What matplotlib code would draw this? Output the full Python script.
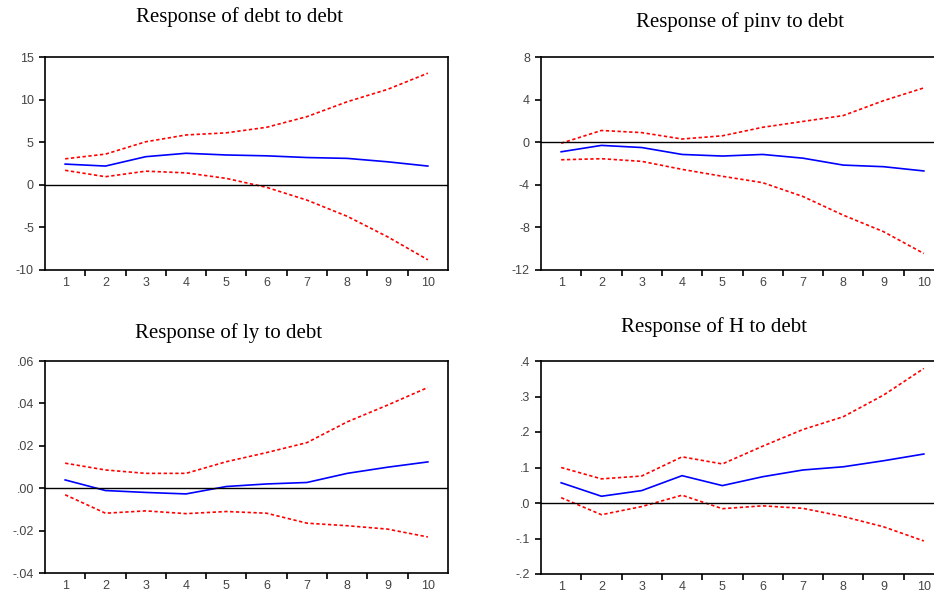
import matplotlib
matplotlib.use("Agg")
from matplotlib import pyplot as plt
from matplotlib.ticker import FixedLocator, NullFormatter

periods = [1, 2, 3, 4, 5, 6, 7, 8, 9, 10]

# Response of debt to debt
debt_mid = [2.43, 2.2, 3.3, 3.7, 3.5, 3.4, 3.2, 3.1, 2.7, 2.2]
debt_hi = [3.05, 3.6, 5.05, 5.85, 6.1, 6.75, 8.0, 9.75, 11.2, 13.1]
debt_lo = [1.7, 0.95, 1.6, 1.4, 0.75, -0.3, -1.8, -3.7, -6.1, -8.8]

# Response of pinv to debt
pinv_mid = [-0.9, -0.3, -0.5, -1.15, -1.3, -1.15, -1.5, -2.15, -2.3, -2.7]
pinv_hi = [-0.1, 1.1, 0.9, 0.3, 0.6, 1.4, 1.95, 2.5, 3.9, 5.1]
pinv_lo = [-1.65, -1.55, -1.8, -2.55, -3.2, -3.8, -5.1, -6.85, -8.4, -10.45]

# Response of ly to debt
ly_mid = [0.0039, -0.0011, -0.002, -0.0027, 0.0008, 0.002, 0.0027, 0.007, 0.0099, 0.0124]
ly_hi = [0.0118, 0.0086, 0.007, 0.007, 0.0125, 0.0168, 0.0215, 0.0313, 0.0392, 0.0475]
ly_lo = [-0.0031, -0.0118, -0.0107, -0.012, -0.011, -0.0118, -0.0165, -0.0177, -0.0193, -0.023]

# Response of H to debt
h_mid = [0.057, 0.019, 0.035, 0.077, 0.049, 0.074, 0.093, 0.102, 0.119, 0.138]
h_hi = [0.100, 0.068, 0.076, 0.130, 0.110, 0.160, 0.207, 0.243, 0.304, 0.379]
h_lo = [0.015, -0.033, -0.010, 0.022, -0.016, -0.008, -0.015, -0.038, -0.067, -0.107]

panels = [
    ("Response of debt to debt", debt_mid, debt_hi, debt_lo,
     [-10, -5, 0, 5, 10, 15], ["-10", "-5", "0", "5", "10", "15"]),
    ("Response of pinv to debt", pinv_mid, pinv_hi, pinv_lo,
     [-12, -8, -4, 0, 4, 8], ["-12", "-8", "-4", "0", "4", "8"]),
    ("Response of ly to debt", ly_mid, ly_hi, ly_lo,
     [-0.04, -0.02, 0.0, 0.02, 0.04, 0.06], ["-.04", "-.02", ".00", ".02", ".04", ".06"]),
    ("Response of H to debt", h_mid, h_hi, h_lo,
     [-0.2, -0.1, 0.0, 0.1, 0.2, 0.3, 0.4], ["-.2", "-.1", ".0", ".1", ".2", ".3", ".4"]),
]

W, H = 934, 593
# axes boxes in pixels: left, top, width, height
boxes = [(45, 57, 403, 213), (541, 57, 403, 213), (45, 361, 403, 212), (541, 361, 403, 213)]
titles_xy = [(239, 17), (740, 22), (229, 333), (714, 327)]

fig = plt.figure(figsize=(W / 100, H / 100), dpi=100)

for (title, mid, hi, lo, yt, ytl), (l, t, w, h), (tx, ty) in zip(panels, boxes, titles_xy):
    ax = fig.add_axes([l / W, (H - t - h) / H, w / W, h / H])
    ax.plot(periods, mid, color="#0000ff", lw=1.2)
    ax.plot(periods, hi, color="#ff0000", lw=1.2, linestyle=(0, (2, 1.5)))
    ax.plot(periods, lo, color="#ff0000", lw=1.2, linestyle=(0, (2, 1.5)))
    ax.axhline(0, color="black", lw=1.0)
    ax.set_xlim(0.5, 10.5)
    ax.set_ylim(yt[0], yt[-1])
    ax.set_yticks(yt)
    ax.set_yticklabels(ytl)
    # ticks at period boundaries, labels at centres
    ax.xaxis.set_major_locator(FixedLocator([p + 0.5 for p in periods[:-1]]))
    ax.xaxis.set_major_formatter(NullFormatter())
    ax.set_xticks(periods, minor=True)
    ax.set_xticklabels([str(p) for p in periods], minor=True)
    ax.tick_params(axis="x", which="minor", length=0, pad=5)
    ax.tick_params(which="both", labelsize=9, labelcolor="#444444", colors="#444444",
                   direction="out")
    ax.tick_params(which="major", length=4, width=1.2, color="black")
    ax.tick_params(axis="y", pad=4)
    for lab in ax.get_xticklabels(minor=True) + ax.get_yticklabels():
        lab.set_family("Liberation Sans")
    for sp in ax.spines.values():
        sp.set_linewidth(1.2)
        sp.set_color("black")
    fig.text(tx / W, 1 - ty / H, title, ha="center", va="center",
             family="Liberation Serif", fontsize=15)

fig.savefig("out.png", dpi=100)
